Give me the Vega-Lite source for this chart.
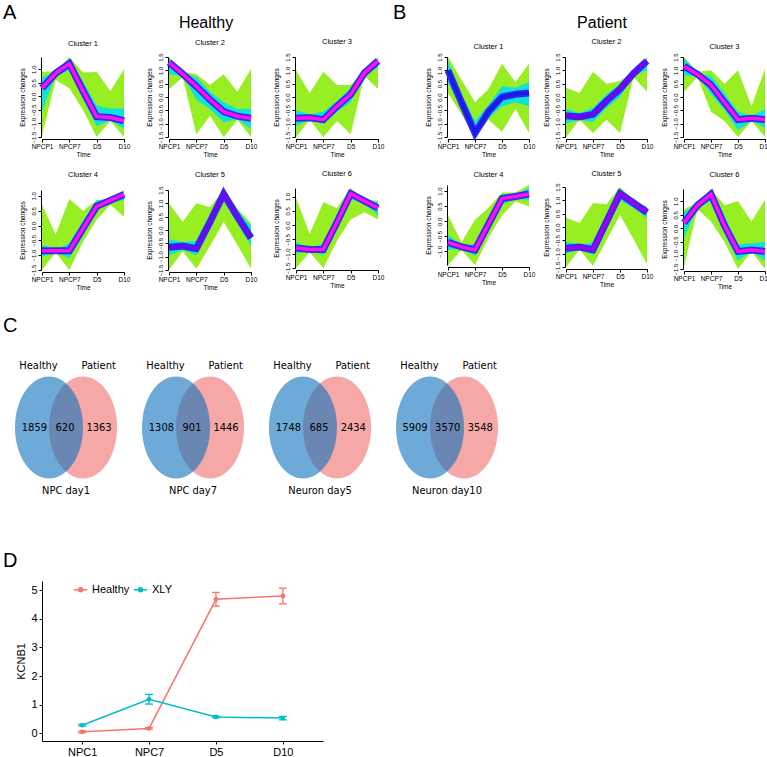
{
 "$schema": "https://vega.github.io/schema/vega-lite/v6.json",
 "background": "white",
 "padding": {"left": 3, "top": 3, "right": 2, "bottom": 0},
 "config": {
  "font": "Liberation Sans",
  "view": {"stroke": null},
  "axis": {"grid": false, "domainColor": "#000", "tickColor": "#000", "labelColor": "#000", "titleColor": "#000", "titleFontWeight": "normal", "domainWidth": 1, "tickWidth": 1},
  "title": {"fontWeight": "normal", "color": "#000"},
  "header": {"labelColor": "#000", "titleColor": "#000"},
  "legend": {"labelColor": "#000"}
 },
 "datasets": {
  "clusters": [
   {"p":"H","c":1,"t":1,"lo":-1.45,"hi":0.9,"ilo":-0.55,"ihi":0.7,"m":0.3},
   {"p":"H","c":1,"t":2,"lo":0.6,"hi":0.92,"ilo":0.75,"ihi":0.9,"m":0.85},
   {"p":"H","c":1,"t":3,"lo":0.3,"hi":1.45,"ilo":0.95,"ihi":1.4,"m":1.2},
   {"p":"H","c":1,"t":4,"lo":-0.5,"hi":0.88,"ilo":-0.1,"ihi":0.55,"m":0.2},
   {"p":"H","c":1,"t":5,"lo":-1.5,"hi":0.9,"ilo":-1.1,"ihi":-0.35,"m":-0.75},
   {"p":"H","c":1,"t":6,"lo":-0.9,"hi":0.2,"ilo":-0.88,"ihi":-0.45,"m":-0.78},
   {"p":"H","c":1,"t":7,"lo":-1.5,"hi":1.0,"ilo":-1.2,"ihi":-0.45,"m":-0.9},
   {"p":"H","c":2,"t":1,"lo":0.28,"hi":1.5,"ilo":0.85,"ihi":1.45,"m":1.3},
   {"p":"H","c":2,"t":2,"lo":0.75,"hi":0.95,"ilo":0.8,"ihi":0.92,"m":0.87},
   {"p":"H","c":2,"t":3,"lo":-1.4,"hi":0.85,"ilo":-0.1,"ihi":0.75,"m":0.4},
   {"p":"H","c":2,"t":4,"lo":-0.7,"hi":0.45,"ilo":-0.45,"ihi":0.2,"m":-0.1},
   {"p":"H","c":2,"t":5,"lo":-1.5,"hi":0.85,"ilo":-0.95,"ihi":-0.2,"m":-0.55},
   {"p":"H","c":2,"t":6,"lo":-0.85,"hi":0.2,"ilo":-0.83,"ihi":-0.45,"m":-0.72},
   {"p":"H","c":2,"t":7,"lo":-1.5,"hi":1.05,"ilo":-1.2,"ihi":-0.45,"m":-0.8},
   {"p":"H","c":3,"t":1,"lo":-1.5,"hi":1.0,"ilo":-1.1,"ihi":-0.5,"m":-0.8},
   {"p":"H","c":3,"t":2,"lo":-0.85,"hi":0.15,"ilo":-0.84,"ihi":-0.65,"m":-0.78},
   {"p":"H","c":3,"t":3,"lo":-1.5,"hi":0.95,"ilo":-1.0,"ihi":-0.55,"m":-0.85},
   {"p":"H","c":3,"t":4,"lo":-0.9,"hi":0.45,"ilo":-0.55,"ihi":-0.15,"m":-0.35},
   {"p":"H","c":3,"t":5,"lo":-1.4,"hi":0.45,"ilo":-0.2,"ihi":0.35,"m":0.1},
   {"p":"H","c":3,"t":6,"lo":0.8,"hi":1.0,"ilo":0.85,"ihi":0.95,"m":0.9},
   {"p":"H","c":3,"t":7,"lo":0.3,"hi":1.5,"ilo":1.1,"ihi":1.45,"m":1.35},
   {"p":"H","c":4,"t":1,"lo":-1.5,"hi":0.7,"ilo":-1.05,"ihi":-0.65,"m":-0.85},
   {"p":"H","c":4,"t":2,"lo":-0.9,"hi":-0.3,"ilo":-0.9,"ihi":-0.8,"m":-0.85},
   {"p":"H","c":4,"t":3,"lo":-1.5,"hi":0.9,"ilo":-1.1,"ihi":-0.6,"m":-0.85},
   {"p":"H","c":4,"t":4,"lo":-0.55,"hi":0.5,"ilo":-0.35,"ihi":0.15,"m":-0.1},
   {"p":"H","c":4,"t":5,"lo":0.2,"hi":0.85,"ilo":0.5,"ihi":0.85,"m":0.65},
   {"p":"H","c":4,"t":6,"lo":0.7,"hi":0.9,"ilo":0.8,"ihi":0.9,"m":0.85},
   {"p":"H","c":4,"t":7,"lo":0.3,"hi":1.2,"ilo":0.85,"ihi":1.15,"m":1.05},
   {"p":"H","c":5,"t":1,"lo":-1.5,"hi":1.0,"ilo":-0.95,"ihi":-0.35,"m":-0.65},
   {"p":"H","c":5,"t":2,"lo":-0.8,"hi":0.3,"ilo":-0.75,"ihi":-0.45,"m":-0.6},
   {"p":"H","c":5,"t":3,"lo":-1.45,"hi":1.0,"ilo":-0.95,"ihi":-0.4,"m":-0.7},
   {"p":"H","c":5,"t":4,"lo":-0.6,"hi":0.85,"ilo":0.05,"ihi":0.55,"m":0.3},
   {"p":"H","c":5,"t":5,"lo":0.3,"hi":1.5,"ilo":1.15,"ihi":1.45,"m":1.35},
   {"p":"H","c":5,"t":6,"lo":-0.55,"hi":0.8,"ilo":0.3,"ihi":0.75,"m":0.5},
   {"p":"H","c":5,"t":7,"lo":-1.45,"hi":0.25,"ilo":-0.6,"ihi":0.15,"m":-0.3},
   {"p":"H","c":6,"t":1,"lo":-1.5,"hi":0.95,"ilo":-1.0,"ihi":-0.6,"m":-0.8},
   {"p":"H","c":6,"t":2,"lo":-0.95,"hi":-0.3,"ilo":-0.9,"ihi":-0.8,"m":-0.85},
   {"p":"H","c":6,"t":3,"lo":-1.5,"hi":0.8,"ilo":-1.05,"ihi":-0.65,"m":-0.85},
   {"p":"H","c":6,"t":4,"lo":-0.55,"hi":0.6,"ilo":-0.15,"ihi":0.35,"m":0.1},
   {"p":"H","c":6,"t":5,"lo":0.2,"hi":1.3,"ilo":0.9,"ihi":1.25,"m":1.1},
   {"p":"H","c":6,"t":6,"lo":0.45,"hi":0.9,"ilo":0.75,"ihi":0.9,"m":0.85},
   {"p":"H","c":6,"t":7,"lo":0.2,"hi":0.85,"ilo":0.35,"ihi":0.8,"m":0.6},
   {"p":"P","c":1,"t":1,"lo":0.15,"hi":1.5,"ilo":0.55,"ihi":1.35,"m":1.0},
   {"p":"P","c":1,"t":2,"lo":-0.65,"hi":0.65,"ilo":-0.45,"ihi":0.1,"m":-0.2},
   {"p":"P","c":1,"t":3,"lo":-1.5,"hi":-0.2,"ilo":-1.45,"ihi":-0.9,"m":-1.35},
   {"p":"P","c":1,"t":4,"lo":-0.85,"hi":0.3,"ilo":-0.8,"ihi":-0.3,"m":-0.55},
   {"p":"P","c":1,"t":5,"lo":-1.3,"hi":1.25,"ilo":-0.35,"ihi":0.4,"m":0.0},
   {"p":"P","c":1,"t":6,"lo":-0.45,"hi":0.55,"ilo":-0.2,"ihi":0.35,"m":0.1},
   {"p":"P","c":1,"t":7,"lo":-1.35,"hi":1.25,"ilo":-0.35,"ihi":0.55,"m":0.15},
   {"p":"P","c":2,"t":1,"lo":-1.5,"hi":0.35,"ilo":-1.0,"ihi":-0.45,"m":-0.7},
   {"p":"P","c":2,"t":2,"lo":-0.85,"hi":0.15,"ilo":-0.84,"ihi":-0.6,"m":-0.75},
   {"p":"P","c":2,"t":3,"lo":-1.35,"hi":0.95,"ilo":-0.95,"ihi":-0.4,"m":-0.65},
   {"p":"P","c":2,"t":4,"lo":-0.85,"hi":0.5,"ilo":-0.4,"ihi":0.1,"m":-0.15},
   {"p":"P","c":2,"t":5,"lo":-1.35,"hi":0.6,"ilo":0.0,"ihi":0.5,"m":0.3},
   {"p":"P","c":2,"t":6,"lo":0.75,"hi":0.95,"ilo":0.8,"ihi":0.95,"m":0.88},
   {"p":"P","c":2,"t":7,"lo":0.2,"hi":1.5,"ilo":1.0,"ihi":1.45,"m":1.35},
   {"p":"P","c":3,"t":1,"lo":0.2,"hi":1.5,"ilo":0.8,"ihi":1.45,"m":1.15},
   {"p":"P","c":3,"t":2,"lo":0.75,"hi":0.95,"ilo":0.8,"ihi":0.9,"m":0.85},
   {"p":"P","c":3,"t":3,"lo":-0.55,"hi":1.0,"ilo":0.1,"ihi":0.8,"m":0.45},
   {"p":"P","c":3,"t":4,"lo":-0.9,"hi":0.5,"ilo":-0.5,"ihi":0.15,"m":-0.2},
   {"p":"P","c":3,"t":5,"lo":-1.5,"hi":1.0,"ilo":-1.25,"ihi":-0.55,"m":-0.85},
   {"p":"P","c":3,"t":6,"lo":-0.9,"hi":-0.35,"ilo":-0.89,"ihi":-0.7,"m":-0.8},
   {"p":"P","c":3,"t":7,"lo":-1.5,"hi":1.05,"ilo":-1.15,"ihi":-0.45,"m":-0.85},
   {"p":"P","c":4,"t":1,"lo":-1.45,"hi":0.2,"ilo":-0.95,"ihi":-0.45,"m":-0.7},
   {"p":"P","c":4,"t":2,"lo":-0.95,"hi":-0.7,"ilo":-0.9,"ihi":-0.8,"m":-0.85},
   {"p":"P","c":4,"t":3,"lo":-1.45,"hi":0.05,"ilo":-1.15,"ihi":-0.75,"m":-0.95},
   {"p":"P","c":4,"t":4,"lo":-0.55,"hi":0.45,"ilo":-0.35,"ihi":0.1,"m":-0.1},
   {"p":"P","c":4,"t":5,"lo":0.2,"hi":0.95,"ilo":0.55,"ihi":0.9,"m":0.75},
   {"p":"P","c":4,"t":6,"lo":0.65,"hi":0.95,"ilo":0.75,"ihi":0.9,"m":0.82},
   {"p":"P","c":4,"t":7,"lo":0.5,"hi":1.2,"ilo":0.7,"ihi":1.1,"m":0.9},
   {"p":"P","c":5,"t":1,"lo":-1.5,"hi":0.35,"ilo":-1.0,"ihi":-0.55,"m":-0.8},
   {"p":"P","c":5,"t":2,"lo":-0.85,"hi":0.15,"ilo":-0.84,"ihi":-0.65,"m":-0.75},
   {"p":"P","c":5,"t":3,"lo":-1.45,"hi":0.9,"ilo":-1.05,"ihi":-0.6,"m":-0.85},
   {"p":"P","c":5,"t":4,"lo":-0.5,"hi":0.85,"ilo":-0.05,"ihi":0.45,"m":0.2},
   {"p":"P","c":5,"t":5,"lo":0.45,"hi":1.5,"ilo":1.0,"ihi":1.45,"m":1.25},
   {"p":"P","c":5,"t":6,"lo":-0.45,"hi":1.0,"ilo":0.7,"ihi":1.0,"m":0.9},
   {"p":"P","c":5,"t":7,"lo":-1.4,"hi":0.75,"ilo":0.35,"ihi":0.75,"m":0.55},
   {"p":"P","c":6,"t":1,"lo":-1.4,"hi":0.7,"ilo":-0.35,"ihi":0.6,"m":0.2},
   {"p":"P","c":6,"t":2,"lo":0.7,"hi":0.95,"ilo":0.75,"ihi":0.9,"m":0.85},
   {"p":"P","c":6,"t":3,"lo":0.25,"hi":1.45,"ilo":1.0,"ihi":1.45,"m":1.25},
   {"p":"P","c":6,"t":4,"lo":-0.5,"hi":0.85,"ilo":-0.2,"ihi":0.45,"m":0.1},
   {"p":"P","c":6,"t":5,"lo":-1.5,"hi":1.0,"ilo":-1.2,"ihi":-0.6,"m":-0.85},
   {"p":"P","c":6,"t":6,"lo":-0.85,"hi":0.25,"ilo":-0.84,"ihi":-0.55,"m":-0.8},
   {"p":"P","c":6,"t":7,"lo":-1.5,"hi":1.05,"ilo":-1.2,"ihi":-0.5,"m":-0.85}
  ],
  "venn": [
   {"v":"NPC day1","k":"set","s":"Patient","cx":1,"lx":1.46},
   {"v":"NPC day1","k":"set","s":"Healthy","cx":0,"lx":-0.31},
   {"v":"NPC day1","k":"num","x":-0.43,"n":"1859"},
   {"v":"NPC day1","k":"num","x":0.47,"n":"620"},
   {"v":"NPC day1","k":"num","x":1.47,"n":"1363"},
   {"v":"NPC day1","k":"name"},
   {"v":"NPC day7","k":"set","s":"Patient","cx":1,"lx":1.46},
   {"v":"NPC day7","k":"set","s":"Healthy","cx":0,"lx":-0.31},
   {"v":"NPC day7","k":"num","x":-0.43,"n":"1308"},
   {"v":"NPC day7","k":"num","x":0.47,"n":"901"},
   {"v":"NPC day7","k":"num","x":1.47,"n":"1446"},
   {"v":"NPC day7","k":"name"},
   {"v":"Neuron day5","k":"set","s":"Patient","cx":1,"lx":1.46},
   {"v":"Neuron day5","k":"set","s":"Healthy","cx":0,"lx":-0.31},
   {"v":"Neuron day5","k":"num","x":-0.43,"n":"1748"},
   {"v":"Neuron day5","k":"num","x":0.47,"n":"685"},
   {"v":"Neuron day5","k":"num","x":1.48,"n":"2434"},
   {"v":"Neuron day5","k":"name"},
   {"v":"Neuron day10","k":"set","s":"Patient","cx":1,"lx":1.46},
   {"v":"Neuron day10","k":"set","s":"Healthy","cx":0,"lx":-0.31},
   {"v":"Neuron day10","k":"num","x":-0.44,"n":"5909"},
   {"v":"Neuron day10","k":"num","x":0.52,"n":"3570"},
   {"v":"Neuron day10","k":"num","x":1.48,"n":"3548"},
   {"v":"Neuron day10","k":"name"}
  ],
  "kcnb1": [
   {"g":"Healthy","t":"NPC1","m":0.05,"lo":0.02,"hi":0.08},
   {"g":"Healthy","t":"NPC7","m":0.17,"lo":0.14,"hi":0.2},
   {"g":"Healthy","t":"D5","m":4.68,"lo":4.44,"hi":4.92},
   {"g":"Healthy","t":"D10","m":4.8,"lo":4.52,"hi":5.07},
   {"g":"XLY","t":"NPC1","m":0.28,"lo":0.25,"hi":0.31},
   {"g":"XLY","t":"NPC7","m":1.19,"lo":1.02,"hi":1.36},
   {"g":"XLY","t":"D5","m":0.57,"lo":0.54,"hi":0.6},
   {"g":"XLY","t":"D10","m":0.53,"lo":0.47,"hi":0.59}
  ]
 },
 "spacing": 25,
 "resolve": {"scale": {"x": "independent", "y": "independent", "color": "independent", "fill": "independent", "fillOpacity": "independent"}},
 "vconcat": [
  {
   "spacing": 1,
   "resolve": {"scale": {"x": "independent", "y": "independent"}},
   "hconcat": [
    {
     "data": {"name": "clusters"},
     "transform": [{"filter": "datum.p === 'H'"}],
     "title": {"text": "A", "anchor": "start", "frame": "group", "fontSize": 20, "dx": -39, "dy": 8, "offset": 0},
     "facet": {"field": "c", "type": "ordinal", "header": {"title": "Healthy", "titleFontSize": 16, "titleFontWeight": "normal", "titlePadding": 6, "labelExpr": "'Cluster ' + datum.value", "labelFontSize": 7.5, "labelPadding": 2}},
     "columns": 3,
     "spacing": {"column": 8, "row": 12},
     "resolve": {"scale": {"x": "independent", "y": "independent"}, "axis": {"x": "independent", "y": "independent"}},
     "spec": {
      "width": 82, "height": 80,
      "encoding": {
       "x": {"field": "t", "type": "quantitative", "scale": {"domain": [1, 7], "nice": false}, "axis": {"values": [1, 3, 5, 7], "labelExpr": "datum.value == 1 ? 'NPCP1' : datum.value == 3 ? 'NPCP7' : datum.value == 5 ? 'D5' : 'D10'", "title": "Time", "labelFontSize": 6.5, "titleFontSize": 6.5, "tickSize": 3, "labelPadding": 1, "titlePadding": 2, "offset": 2, "labelFlush": false}}
      },
      "layer": [
       {"mark": {"type": "area", "color": "#97EE22", "opacity": 1}, "encoding": {"y": {"field": "lo", "type": "quantitative", "scale": {"zero": false, "nice": false}, "axis": {"title": "Expression changes", "titleFontSize": 6.5, "labelFontSize": 6, "labelAngle": -90, "labelAlign": "center", "labelBaseline": "bottom", "tickSize": 3, "labelPadding": 2, "titlePadding": 5, "tickCount": 7, "format": ".1f", "labelFlush": false, "labelOverlap": false, "offset": 1}}, "y2": {"field": "hi"}}},
       {"mark": {"type": "area", "color": "#10E2D8", "opacity": 1}, "encoding": {"y": {"field": "ilo", "type": "quantitative", "title": "Expression changes"}, "y2": {"field": "ihi"}}},
       {"mark": {"type": "line", "color": "#2B2BF8", "strokeWidth": 7, "opacity": 1}, "encoding": {"y": {"field": "m", "type": "quantitative", "title": "Expression changes"}}},
       {"mark": {"type": "line", "strokeWidth": 3.5, "opacity": 1}, "encoding": {"y": {"field": "m", "type": "quantitative", "title": "Expression changes"}, "stroke": {"condition": [{"test": "datum.c == 5", "value": "#6A0AF0"}], "value": "#FF10F0"}}}
      ]
     }
    },
    {
     "data": {"name": "clusters"},
     "transform": [{"filter": "datum.p === 'P'"}],
     "title": {"text": "B", "anchor": "start", "frame": "group", "fontSize": 20, "dx": -55, "dy": 8, "offset": 0},
     "facet": {"field": "c", "type": "ordinal", "header": {"title": "Patient", "titleFontSize": 16, "titleFontWeight": "normal", "titlePadding": 6, "labelExpr": "'Cluster ' + datum.value", "labelFontSize": 7.5, "labelPadding": 2}},
     "columns": 3,
     "spacing": {"column": 0, "row": 12},
     "resolve": {"scale": {"x": "independent", "y": "independent"}, "axis": {"x": "independent", "y": "independent"}},
     "spec": {
      "width": 81, "height": 80,
      "encoding": {
       "x": {"field": "t", "type": "quantitative", "scale": {"domain": [1, 7], "nice": false}, "axis": {"values": [1, 3, 5, 7], "labelExpr": "datum.value == 1 ? 'NPCP1' : datum.value == 3 ? 'NPCP7' : datum.value == 5 ? 'D5' : 'D10'", "title": "Time", "labelFontSize": 6.5, "titleFontSize": 6.5, "tickSize": 3, "labelPadding": 1, "titlePadding": 2, "offset": 2, "labelFlush": false}}
      },
      "layer": [
       {"mark": {"type": "area", "color": "#97EE22", "opacity": 1}, "encoding": {"y": {"field": "lo", "type": "quantitative", "scale": {"zero": false, "nice": false}, "axis": {"title": "Expression changes", "titleFontSize": 6.5, "labelFontSize": 6, "labelAngle": -90, "labelAlign": "center", "labelBaseline": "bottom", "tickSize": 3, "labelPadding": 2, "titlePadding": 5, "tickCount": 7, "format": ".1f", "labelFlush": false, "labelOverlap": false, "offset": 1}}, "y2": {"field": "hi"}}},
       {"mark": {"type": "area", "color": "#10E2D8", "opacity": 1}, "encoding": {"y": {"field": "ilo", "type": "quantitative", "title": "Expression changes"}, "y2": {"field": "ihi"}}},
       {"mark": {"type": "line", "color": "#2B2BF8", "strokeWidth": 7, "opacity": 1}, "encoding": {"y": {"field": "m", "type": "quantitative", "title": "Expression changes"}}},
       {"mark": {"type": "line", "strokeWidth": 3.5, "opacity": 1}, "encoding": {"y": {"field": "m", "type": "quantitative", "title": "Expression changes"}, "stroke": {"condition": [{"test": "datum.c == 1", "value": "#1A1AE6"}, {"test": "datum.c == 2", "value": "#7A00F0"}, {"test": "datum.c == 5", "value": "#A000F0"}], "value": "#FF10F0"}}}
      ]
     }
    }
   ]
  },
  {
   "data": {"name": "venn"},
   "title": {"text": "C", "anchor": "start", "frame": "group", "fontSize": 20, "dx": -39, "offset": 22},
   "bounds": "flush",
   "spacing": 17,
   "resolve": {"scale": {"x": "independent", "y": "independent", "fill": "independent", "fillOpacity": "independent"}},
   "hconcat": [
    {"transform": [{"filter": "datum.v === 'NPC day1'"}], "width": 110, "height": 168,
     "layer": [
      {"transform": [{"filter": "datum.k === 'set'"}],
       "mark": {"type": "point", "shape": "M0,-1C0.368,-1 0.667,-0.552 0.667,0C0.667,0.552 0.368,1 0,1C-0.368,1 -0.667,0.552 -0.667,0C-0.667,-0.552 -0.368,-1 0,-1Z", "size": 10404, "filled": true, "strokeWidth": 0, "opacity": 1},
       "encoding": {"x": {"field": "cx", "type": "quantitative", "scale": {"domain": [-0.206, 3.029], "nice": false, "zero": false}, "axis": null}, "y": {"datum": 0, "type": "quantitative", "scale": {"domain": [-2.9, 2.05], "nice": false, "zero": false}, "axis": null}, "fill": {"field": "s", "type": "nominal", "scale": {"domain": ["Healthy", "Patient"], "range": ["#0D71BC", "#F5A8A5"]}, "legend": null}, "fillOpacity": {"field": "s", "type": "nominal", "scale": {"domain": ["Healthy", "Patient"], "range": [0.6, 1]}, "legend": null}}},
      {"transform": [{"filter": "datum.k === 'set'"}], "mark": {"type": "text", "font": "Liberation Sans Narrow, DejaVu Sans Condensed, Liberation Sans", "fontSize": 11, "baseline": "middle", "color": "#000"}, "encoding": {"x": {"field": "lx", "type": "quantitative"}, "y": {"datum": 1.82, "type": "quantitative"}, "text": {"field": "s"}}},
      {"transform": [{"filter": "datum.k === 'num'"}], "mark": {"type": "text", "font": "Liberation Sans Narrow, DejaVu Sans Condensed, Liberation Sans", "fontSize": 11, "baseline": "middle", "color": "#000"}, "encoding": {"x": {"field": "x", "type": "quantitative"}, "y": {"datum": 0, "type": "quantitative"}, "text": {"field": "n", "type": "nominal"}}},
      {"transform": [{"filter": "datum.k === 'name'"}], "mark": {"type": "text", "font": "Liberation Sans Narrow, DejaVu Sans Condensed, Liberation Sans", "fontSize": 11, "baseline": "middle", "color": "#000"}, "encoding": {"x": {"datum": 0.5, "type": "quantitative"}, "y": {"datum": -1.88, "type": "quantitative"}, "text": {"field": "v", "type": "nominal"}}}
     ]},
    {"transform": [{"filter": "datum.v === 'NPC day7'"}], "width": 110, "height": 168,
     "layer": [
      {"transform": [{"filter": "datum.k === 'set'"}],
       "mark": {"type": "point", "shape": "M0,-1C0.368,-1 0.667,-0.552 0.667,0C0.667,0.552 0.368,1 0,1C-0.368,1 -0.667,0.552 -0.667,0C-0.667,-0.552 -0.368,-1 0,-1Z", "size": 10404, "filled": true, "strokeWidth": 0, "opacity": 1},
       "encoding": {"x": {"field": "cx", "type": "quantitative", "scale": {"domain": [-0.206, 3.029], "nice": false, "zero": false}, "axis": null}, "y": {"datum": 0, "type": "quantitative", "scale": {"domain": [-2.9, 2.05], "nice": false, "zero": false}, "axis": null}, "fill": {"field": "s", "type": "nominal", "scale": {"domain": ["Healthy", "Patient"], "range": ["#0D71BC", "#F5A8A5"]}, "legend": null}, "fillOpacity": {"field": "s", "type": "nominal", "scale": {"domain": ["Healthy", "Patient"], "range": [0.6, 1]}, "legend": null}}},
      {"transform": [{"filter": "datum.k === 'set'"}], "mark": {"type": "text", "font": "Liberation Sans Narrow, DejaVu Sans Condensed, Liberation Sans", "fontSize": 11, "baseline": "middle", "color": "#000"}, "encoding": {"x": {"field": "lx", "type": "quantitative"}, "y": {"datum": 1.82, "type": "quantitative"}, "text": {"field": "s"}}},
      {"transform": [{"filter": "datum.k === 'num'"}], "mark": {"type": "text", "font": "Liberation Sans Narrow, DejaVu Sans Condensed, Liberation Sans", "fontSize": 11, "baseline": "middle", "color": "#000"}, "encoding": {"x": {"field": "x", "type": "quantitative"}, "y": {"datum": 0, "type": "quantitative"}, "text": {"field": "n", "type": "nominal"}}},
      {"transform": [{"filter": "datum.k === 'name'"}], "mark": {"type": "text", "font": "Liberation Sans Narrow, DejaVu Sans Condensed, Liberation Sans", "fontSize": 11, "baseline": "middle", "color": "#000"}, "encoding": {"x": {"datum": 0.5, "type": "quantitative"}, "y": {"datum": -1.88, "type": "quantitative"}, "text": {"field": "v", "type": "nominal"}}}
     ]},
    {"transform": [{"filter": "datum.v === 'Neuron day5'"}], "width": 110, "height": 168,
     "layer": [
      {"transform": [{"filter": "datum.k === 'set'"}],
       "mark": {"type": "point", "shape": "M0,-1C0.368,-1 0.667,-0.552 0.667,0C0.667,0.552 0.368,1 0,1C-0.368,1 -0.667,0.552 -0.667,0C-0.667,-0.552 -0.368,-1 0,-1Z", "size": 10404, "filled": true, "strokeWidth": 0, "opacity": 1},
       "encoding": {"x": {"field": "cx", "type": "quantitative", "scale": {"domain": [-0.206, 3.029], "nice": false, "zero": false}, "axis": null}, "y": {"datum": 0, "type": "quantitative", "scale": {"domain": [-2.9, 2.05], "nice": false, "zero": false}, "axis": null}, "fill": {"field": "s", "type": "nominal", "scale": {"domain": ["Healthy", "Patient"], "range": ["#0D71BC", "#F5A8A5"]}, "legend": null}, "fillOpacity": {"field": "s", "type": "nominal", "scale": {"domain": ["Healthy", "Patient"], "range": [0.6, 1]}, "legend": null}}},
      {"transform": [{"filter": "datum.k === 'set'"}], "mark": {"type": "text", "font": "Liberation Sans Narrow, DejaVu Sans Condensed, Liberation Sans", "fontSize": 11, "baseline": "middle", "color": "#000"}, "encoding": {"x": {"field": "lx", "type": "quantitative"}, "y": {"datum": 1.82, "type": "quantitative"}, "text": {"field": "s"}}},
      {"transform": [{"filter": "datum.k === 'num'"}], "mark": {"type": "text", "font": "Liberation Sans Narrow, DejaVu Sans Condensed, Liberation Sans", "fontSize": 11, "baseline": "middle", "color": "#000"}, "encoding": {"x": {"field": "x", "type": "quantitative"}, "y": {"datum": 0, "type": "quantitative"}, "text": {"field": "n", "type": "nominal"}}},
      {"transform": [{"filter": "datum.k === 'name'"}], "mark": {"type": "text", "font": "Liberation Sans Narrow, DejaVu Sans Condensed, Liberation Sans", "fontSize": 11, "baseline": "middle", "color": "#000"}, "encoding": {"x": {"datum": 0.5, "type": "quantitative"}, "y": {"datum": -1.88, "type": "quantitative"}, "text": {"field": "v", "type": "nominal"}}}
     ]},
    {"transform": [{"filter": "datum.v === 'Neuron day10'"}], "width": 110, "height": 168,
     "layer": [
      {"transform": [{"filter": "datum.k === 'set'"}],
       "mark": {"type": "point", "shape": "M0,-1C0.368,-1 0.667,-0.552 0.667,0C0.667,0.552 0.368,1 0,1C-0.368,1 -0.667,0.552 -0.667,0C-0.667,-0.552 -0.368,-1 0,-1Z", "size": 10404, "filled": true, "strokeWidth": 0, "opacity": 1},
       "encoding": {"x": {"field": "cx", "type": "quantitative", "scale": {"domain": [-0.206, 3.029], "nice": false, "zero": false}, "axis": null}, "y": {"datum": 0, "type": "quantitative", "scale": {"domain": [-2.9, 2.05], "nice": false, "zero": false}, "axis": null}, "fill": {"field": "s", "type": "nominal", "scale": {"domain": ["Healthy", "Patient"], "range": ["#0D71BC", "#F5A8A5"]}, "legend": null}, "fillOpacity": {"field": "s", "type": "nominal", "scale": {"domain": ["Healthy", "Patient"], "range": [0.6, 1]}, "legend": null}}},
      {"transform": [{"filter": "datum.k === 'set'"}], "mark": {"type": "text", "font": "Liberation Sans Narrow, DejaVu Sans Condensed, Liberation Sans", "fontSize": 11, "baseline": "middle", "color": "#000"}, "encoding": {"x": {"field": "lx", "type": "quantitative"}, "y": {"datum": 1.82, "type": "quantitative"}, "text": {"field": "s"}}},
      {"transform": [{"filter": "datum.k === 'num'"}], "mark": {"type": "text", "font": "Liberation Sans Narrow, DejaVu Sans Condensed, Liberation Sans", "fontSize": 11, "baseline": "middle", "color": "#000"}, "encoding": {"x": {"field": "x", "type": "quantitative"}, "y": {"datum": 0, "type": "quantitative"}, "text": {"field": "n", "type": "nominal"}}},
      {"transform": [{"filter": "datum.k === 'name'"}], "mark": {"type": "text", "font": "Liberation Sans Narrow, DejaVu Sans Condensed, Liberation Sans", "fontSize": 11, "baseline": "middle", "color": "#000"}, "encoding": {"x": {"datum": 0.5, "type": "quantitative"}, "y": {"datum": -1.88, "type": "quantitative"}, "text": {"field": "v", "type": "nominal"}}}
     ]}
   ]
  },
  {
   "data": {"name": "kcnb1"},
   "title": {"text": "D", "anchor": "start", "frame": "group", "fontSize": 20, "dx": -39, "offset": 10},
   "width": 281, "height": 160,
   "encoding": {
    "x": {"field": "t", "type": "ordinal", "scale": {"type": "point", "domain": ["NPC1", "NPC7", "D5", "D10"], "padding": 0.6}, "axis": {"title": null, "labelAngle": 0, "labelFontSize": 11, "tickSize": 3, "labelPadding": 2}},
    "color": {"field": "g", "type": "nominal", "scale": {"domain": ["Healthy", "XLY"], "range": ["#F8766D", "#00BFC4"]}, "legend": {"title": null, "orient": "none", "legendX": 31, "legendY": 1, "direction": "horizontal", "labelFontSize": 11, "symbolType": "M-1,0L1,0M-0.3,0C-0.3,-0.17 -0.17,-0.3 0,-0.3C0.17,-0.3 0.3,-0.17 0.3,0C0.3,0.17 0.17,0.3 0,0.3C-0.17,0.3 -0.3,0.17 -0.3,0Z", "symbolSize": 180, "symbolStrokeWidth": 1.5, "columnPadding": 0, "labelOffset": 4, "padding": 0}}
   },
   "layer": [
    {"mark": {"type": "line", "strokeWidth": 1.5}, "encoding": {"y": {"field": "m", "type": "quantitative", "scale": {"domain": [-0.27, 5.32], "nice": false, "zero": false}, "axis": {"title": "KCNB1", "titleFontSize": 11, "labelFontSize": 11, "values": [0, 1, 2, 3, 4, 5], "tickCount": 6, "labelOverlap": false, "tickSize": 3, "labelPadding": 2, "titlePadding": 4}}}},
    {"mark": {"type": "rule", "strokeWidth": 1.3}, "encoding": {"y": {"field": "lo", "type": "quantitative", "axis": {"title": "KCNB1", "titleFontSize": 11, "labelFontSize": 11, "values": [0, 1, 2, 3, 4, 5], "tickCount": 6, "labelOverlap": false, "tickSize": 3, "labelPadding": 2, "titlePadding": 4}}, "y2": {"field": "hi"}}},
    {"mark": {"type": "tick", "thickness": 1.3, "size": 8, "opacity": 1}, "encoding": {"y": {"field": "lo", "type": "quantitative", "axis": {"title": "KCNB1", "titleFontSize": 11, "labelFontSize": 11, "values": [0, 1, 2, 3, 4, 5], "tickCount": 6, "labelOverlap": false, "tickSize": 3, "labelPadding": 2, "titlePadding": 4}}}},
    {"mark": {"type": "tick", "thickness": 1.3, "size": 8, "opacity": 1}, "encoding": {"y": {"field": "hi", "type": "quantitative", "axis": {"title": "KCNB1", "titleFontSize": 11, "labelFontSize": 11, "values": [0, 1, 2, 3, 4, 5], "tickCount": 6, "labelOverlap": false, "tickSize": 3, "labelPadding": 2, "titlePadding": 4}}}},
    {"mark": {"type": "point", "filled": true, "size": 22, "opacity": 1}, "encoding": {"y": {"field": "m", "type": "quantitative", "axis": {"title": "KCNB1", "titleFontSize": 11, "labelFontSize": 11, "values": [0, 1, 2, 3, 4, 5], "tickCount": 6, "labelOverlap": false, "tickSize": 3, "labelPadding": 2, "titlePadding": 4}}}}
   ]
  }
 ]
}
